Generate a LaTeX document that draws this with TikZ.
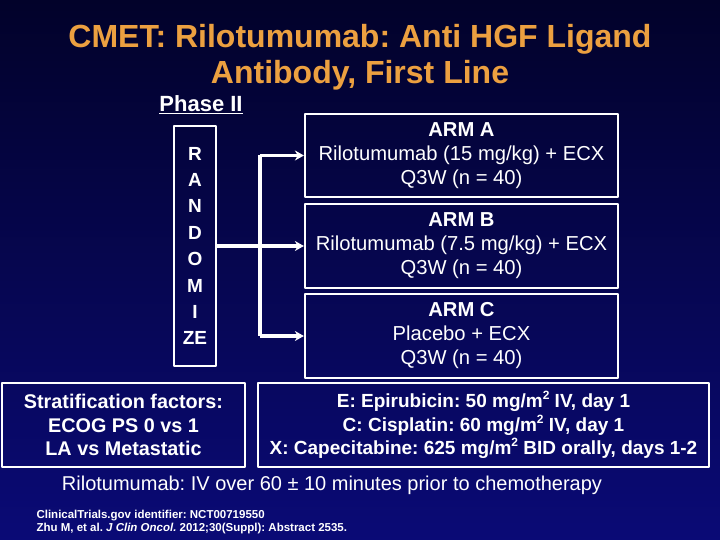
\documentclass[tikz,border=0pt]{standalone}
\usepackage{fontspec}
\setmainfont{Liberation Sans}
\usetikzlibrary{positioning,arrows.meta}
\frenchspacing
\definecolor{bgtop}{RGB}{2,2,42}
\definecolor{bgbot}{RGB}{10,10,118}
\definecolor{titleorange}{RGB}{236,160,64}
\newcommand{\sqr}{\raisebox{0.42em}{\fontsize{12}{12}\selectfont 2}}
\tikzset{
  box/.style={draw=white, line width=2.2pt, text=white, align=center, inner sep=0pt},
  armbox/.style={box, minimum width=313pt, minimum height=83pt, font=\fontsize{20.2}{24}\selectfont},
  infobox/.style={box, minimum height=84pt, font=\bfseries\fontsize{19.8}{23.5}\selectfont},
  link/.style={white, line width=3.4pt}
}
\begin{document}
\begin{tikzpicture}[x=1pt, y=-1pt, >={Stealth[length=9pt, width=10pt]}, line join=round]
	\fill[top color=bgtop, bottom color=bgbot] (0,0) rectangle (720,540);
	\useasboundingbox (0,0) rectangle (720,540);
	% title
	\node[text=titleorange, font=\bfseries\fontsize{32}{36}\selectfont, align=center] (title) at (360,57.5)
		{CMET: Rilotumumab: Anti HGF Ligand\\Antibody, First Line};
	\node[text=white, font=\bfseries\fontsize{22}{26}\selectfont] (phase) at (201,105) {\underline{Phase II}};
	% randomize box
	\node[box, minimum width=42pt, minimum height=240pt, font=\bfseries\fontsize{19}{26.4}\selectfont] (rand) at (195,246)
		{R\\A\\N\\D\\O\\M\\I\\ZE};
	% arms
	\node[armbox] (armA) at (461.5,155.5) {\textbf{ARM A}\\Rilotumumab (15 mg/kg) + ECX\\Q3W (n = 40)};
	\node[armbox, minimum height=84pt] (armB) at (461.5,246) {\textbf{ARM B}\\Rilotumumab (7.5 mg/kg) + ECX\\Q3W (n = 40)};
	\node[armbox, minimum height=84pt] (armC) at (461.5,336) {\textbf{ARM C}\\Placebo + ECX\\Q3W (n = 40)};
	% connectors
	\coordinate (split) at (260,246);
	\draw[link] (rand.east) -- (split);
	\draw[link] (split |- armA.west) -- (split |- armC.west);
	\draw[link, ->] (split) -- (armB.west);
	\draw[link, ->] (split |- armA.west) -- (armA.west);
	\draw[link, ->] (split |- armC.west) -- (armC.west);
	% bottom boxes
	\node[infobox, minimum width=243pt] (strat) at (123.5,425)
		{Stratification factors:\\ECOG PS 0 vs 1\\LA vs Metastatic};
	\node[infobox, minimum width=451pt, font=\bfseries\fontsize{19}{23.5}\selectfont] (chemo) at (483.5,425)
		{E: Epirubicin: 50 mg/m\sqr{} IV, day 1\\
		 C: Cisplatin: 60 mg/m\sqr{} IV, day 1\\
		 X: Capecitabine: 625 mg/m\sqr{} BID orally, days 1-2};
	\node[text=white, font=\fontsize{20}{24}\selectfont] (note) at (332,485)
		{Rilotumumab: IV over 60 ± 10 minutes prior to chemotherapy};
	% references
	\node[text=white, anchor=west, font=\bfseries\fontsize{11.5}{13}\selectfont] (ref1) at (33,516)
		{ClinicalTrials.gov identifier: NCT00719550};
	\node[text=white, anchor=west, font=\bfseries\fontsize{11.5}{13}\selectfont] (ref2) at (33,529)
		{Zhu M, et al. \textit{J Clin Oncol.} 2012;30(Suppl): Abstract 2535.};
\end{tikzpicture}
\end{document}
